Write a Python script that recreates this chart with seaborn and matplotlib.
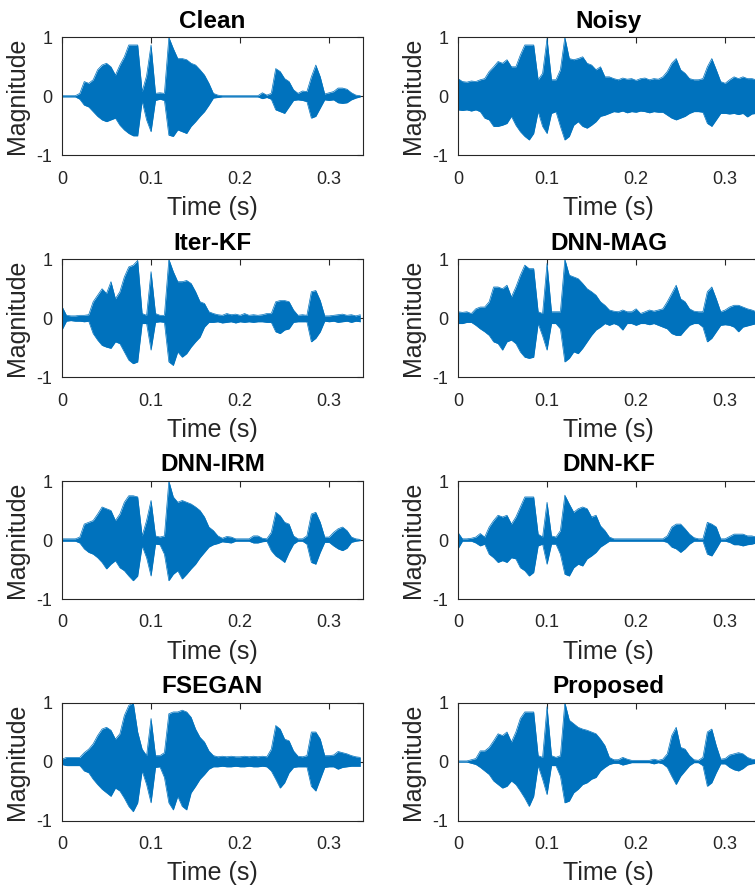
import matplotlib
matplotlib.use("Agg")
import matplotlib.pyplot as plt
import seaborn as sns
import numpy as np
import pandas as pd

# sample grid of the envelopes (s)
time_s = np.round(np.arange(68) * 0.005, 3)

# upper / lower envelope of each waveform
clean_upper = [0.01, 0.01, 0.01, 0.01, 0.05, 0.25, 0.22, 0.28, 0.45, 0.53,
               0.56, 0.50, 0.36, 0.53, 0.67, 0.87, 0.87, 0.87, 0.08, 0.35,
               0.87, 0.05, 0.06, 0.05, 1.00, 0.81, 0.64, 0.64, 0.62, 0.56,
               0.53, 0.45, 0.36, 0.22, 0.05, 0.02, 0.01, 0.01, 0.01, 0.01,
               0.01, 0.01, 0.01, 0.01, 0.01, 0.06, 0.02, 0.05, 0.47, 0.42,
               0.30, 0.25, 0.11, 0.05, 0.09, 0.08, 0.33, 0.53, 0.33, 0.04,
               0.06, 0.08, 0.14, 0.14, 0.12, 0.06, 0.02, 0.01]
clean_lower = [-0.01, -0.01, -0.01, -0.01, -0.05, -0.15, -0.18, -0.26, -0.34, -0.40,
               -0.43, -0.40, -0.37, -0.49, -0.57, -0.63, -0.67, -0.67, -0.08, -0.40,
               -0.60, -0.07, -0.05, -0.07, -0.66, -0.68, -0.57, -0.60, -0.63, -0.51,
               -0.43, -0.34, -0.26, -0.15, -0.03, -0.02, -0.01, -0.01, -0.01, -0.01,
               -0.01, -0.01, -0.01, -0.01, -0.01, -0.04, -0.02, -0.05, -0.23, -0.26,
               -0.29, -0.18, -0.07, -0.06, -0.07, -0.09, -0.37, -0.34, -0.20, -0.06,
               -0.07, -0.06, -0.11, -0.12, -0.11, -0.06, -0.03, -0.01]

noisy_upper = [0.30, 0.25, 0.24, 0.26, 0.25, 0.28, 0.30, 0.42, 0.50, 0.59,
               0.56, 0.62, 0.50, 0.50, 0.70, 0.87, 0.87, 0.87, 0.28, 0.39,
               0.98, 0.28, 0.28, 0.45, 1.00, 0.64, 0.62, 0.64, 0.67, 0.56,
               0.53, 0.45, 0.50, 0.33, 0.33, 0.30, 0.28, 0.31, 0.29, 0.30,
               0.27, 0.30, 0.31, 0.28, 0.30, 0.29, 0.33, 0.42, 0.56, 0.64,
               0.45, 0.39, 0.30, 0.28, 0.28, 0.30, 0.50, 0.64, 0.45, 0.25,
               0.22, 0.28, 0.33, 0.30, 0.33, 0.30, 0.30, 0.28]
noisy_lower = [-0.23, -0.24, -0.23, -0.25, -0.23, -0.26, -0.37, -0.40, -0.51, -0.51,
               -0.49, -0.46, -0.34, -0.49, -0.60, -0.68, -0.74, -0.63, -0.26, -0.51,
               -0.63, -0.29, -0.26, -0.51, -0.74, -0.68, -0.49, -0.43, -0.51, -0.54,
               -0.49, -0.43, -0.34, -0.32, -0.29, -0.26, -0.27, -0.25, -0.28, -0.26,
               -0.27, -0.25, -0.26, -0.28, -0.26, -0.27, -0.27, -0.32, -0.37, -0.40,
               -0.37, -0.34, -0.29, -0.26, -0.26, -0.27, -0.46, -0.51, -0.40, -0.29,
               -0.29, -0.30, -0.29, -0.31, -0.29, -0.35, -0.30, -0.29]

iterkf_upper = [0.20, 0.05, 0.04, 0.04, 0.05, 0.05, 0.06, 0.28, 0.39, 0.50,
                0.42, 0.62, 0.33, 0.45, 0.70, 0.87, 0.90, 0.98, 0.08, 0.05,
                0.79, 0.08, 0.05, 0.05, 1.00, 0.79, 0.62, 0.62, 0.64, 0.59,
                0.45, 0.28, 0.25, 0.11, 0.08, 0.06, 0.05, 0.08, 0.06, 0.07,
                0.05, 0.08, 0.05, 0.06, 0.05, 0.06, 0.08, 0.08, 0.28, 0.30,
                0.30, 0.28, 0.14, 0.05, 0.06, 0.05, 0.45, 0.47, 0.30, 0.04,
                0.04, 0.05, 0.06, 0.07, 0.05, 0.06, 0.04, 0.06]
iterkf_lower = [-0.20, -0.05, -0.04, -0.05, -0.05, -0.06, -0.05, -0.26, -0.37, -0.46,
                -0.49, -0.51, -0.40, -0.43, -0.57, -0.71, -0.77, -0.74, -0.09, -0.09,
                -0.54, -0.07, -0.06, -0.07, -0.74, -0.80, -0.57, -0.66, -0.60, -0.49,
                -0.40, -0.32, -0.15, -0.07, -0.07, -0.06, -0.08, -0.07, -0.06, -0.08,
                -0.06, -0.07, -0.06, -0.07, -0.06, -0.06, -0.07, -0.07, -0.23, -0.26,
                -0.20, -0.18, -0.07, -0.06, -0.06, -0.06, -0.40, -0.34, -0.23, -0.05,
                -0.06, -0.05, -0.07, -0.06, -0.05, -0.07, -0.05, -0.06]

dnnmag_upper = [0.11, 0.10, 0.11, 0.08, 0.16, 0.19, 0.19, 0.28, 0.53, 0.53,
                0.50, 0.56, 0.36, 0.53, 0.73, 0.90, 0.84, 0.84, 0.11, 0.08,
                0.93, 0.11, 0.11, 0.11, 1.00, 0.73, 0.70, 0.67, 0.59, 0.50,
                0.45, 0.39, 0.28, 0.22, 0.14, 0.12, 0.11, 0.14, 0.11, 0.11,
                0.16, 0.08, 0.11, 0.14, 0.12, 0.14, 0.16, 0.28, 0.42, 0.56,
                0.33, 0.28, 0.16, 0.12, 0.11, 0.11, 0.45, 0.53, 0.33, 0.11,
                0.14, 0.19, 0.22, 0.22, 0.19, 0.16, 0.14, 0.11]
dnnmag_lower = [-0.09, -0.09, -0.07, -0.07, -0.12, -0.18, -0.23, -0.29, -0.40, -0.43,
                -0.54, -0.40, -0.37, -0.43, -0.57, -0.66, -0.68, -0.66, -0.09, -0.30,
                -0.54, -0.09, -0.09, -0.18, -0.74, -0.68, -0.57, -0.60, -0.51, -0.40,
                -0.29, -0.20, -0.15, -0.09, -0.12, -0.09, -0.12, -0.20, -0.09, -0.09,
                -0.12, -0.09, -0.09, -0.11, -0.09, -0.12, -0.15, -0.18, -0.26, -0.29,
                -0.29, -0.20, -0.12, -0.09, -0.09, -0.15, -0.40, -0.34, -0.23, -0.12,
                -0.11, -0.12, -0.15, -0.23, -0.15, -0.13, -0.11, -0.09]

dnnirm_upper = [0.02, 0.02, 0.02, 0.02, 0.05, 0.27, 0.30, 0.33, 0.44, 0.56,
                0.53, 0.50, 0.33, 0.44, 0.64, 0.75, 0.75, 0.73, 0.07, 0.33,
                0.67, 0.07, 0.05, 0.07, 1.00, 0.73, 0.64, 0.67, 0.64, 0.61,
                0.56, 0.50, 0.39, 0.22, 0.16, 0.07, 0.03, 0.06, 0.05, 0.02,
                0.02, 0.02, 0.02, 0.07, 0.07, 0.03, 0.02, 0.13, 0.47, 0.41,
                0.30, 0.27, 0.07, 0.02, 0.02, 0.07, 0.44, 0.47, 0.30, 0.05,
                0.05, 0.13, 0.19, 0.22, 0.16, 0.05, 0.02, 0.01]
dnnirm_lower = [-0.02, -0.02, -0.02, -0.02, -0.05, -0.15, -0.21, -0.24, -0.30, -0.38,
                -0.49, -0.41, -0.35, -0.47, -0.52, -0.61, -0.69, -0.61, -0.10, -0.30,
                -0.61, -0.07, -0.08, -0.24, -0.69, -0.58, -0.52, -0.66, -0.58, -0.49,
                -0.41, -0.30, -0.21, -0.12, -0.08, -0.06, -0.03, -0.04, -0.05, -0.02,
                -0.02, -0.02, -0.02, -0.05, -0.05, -0.03, -0.02, -0.18, -0.27, -0.32,
                -0.38, -0.21, -0.07, -0.02, -0.02, -0.07, -0.38, -0.41, -0.21, -0.04,
                -0.04, -0.10, -0.15, -0.18, -0.14, -0.04, -0.02, -0.01]

dnnkf_upper = [0.13, 0.02, 0.02, 0.03, 0.05, 0.11, 0.05, 0.22, 0.33, 0.42,
               0.39, 0.42, 0.27, 0.39, 0.56, 0.73, 0.73, 0.73, 0.10, 0.05,
               0.64, 0.07, 0.05, 0.16, 0.76, 0.61, 0.47, 0.53, 0.56, 0.53,
               0.39, 0.42, 0.24, 0.16, 0.05, 0.02, 0.02, 0.02, 0.02, 0.02,
               0.02, 0.02, 0.02, 0.02, 0.02, 0.02, 0.02, 0.07, 0.22, 0.27,
               0.27, 0.19, 0.10, 0.04, 0.02, 0.02, 0.30, 0.27, 0.22, 0.02,
               0.02, 0.06, 0.10, 0.10, 0.10, 0.07, 0.07, 0.05]
dnnkf_lower = [-0.15, -0.02, -0.02, -0.02, -0.05, -0.10, -0.07, -0.24, -0.30, -0.38,
               -0.35, -0.38, -0.30, -0.32, -0.47, -0.52, -0.61, -0.55, -0.10, -0.07,
               -0.41, -0.07, -0.07, -0.24, -0.58, -0.61, -0.47, -0.41, -0.44, -0.32,
               -0.27, -0.21, -0.12, -0.07, -0.02, -0.02, -0.02, -0.02, -0.02, -0.02,
               -0.02, -0.02, -0.02, -0.02, -0.02, -0.02, -0.02, -0.04, -0.12, -0.15,
               -0.21, -0.15, -0.07, -0.02, -0.02, -0.02, -0.24, -0.27, -0.15, -0.02,
               -0.02, -0.04, -0.08, -0.08, -0.10, -0.08, -0.07, -0.05]

fsegan_upper = [0.04, 0.07, 0.07, 0.07, 0.07, 0.15, 0.21, 0.30, 0.44, 0.55,
                0.58, 0.53, 0.38, 0.47, 0.78, 0.95, 1.00, 0.50, 0.21, 0.10,
                0.73, 0.10, 0.10, 0.15, 0.81, 0.84, 0.84, 0.87, 0.84, 0.75,
                0.55, 0.41, 0.33, 0.18, 0.10, 0.08, 0.09, 0.08, 0.09, 0.08,
                0.08, 0.09, 0.08, 0.09, 0.08, 0.09, 0.08, 0.21, 0.61, 0.55,
                0.38, 0.35, 0.18, 0.09, 0.08, 0.10, 0.50, 0.50, 0.38, 0.10,
                0.10, 0.11, 0.17, 0.15, 0.13, 0.10, 0.08, 0.07]
fsegan_lower = [-0.05, -0.07, -0.07, -0.07, -0.07, -0.16, -0.19, -0.30, -0.39, -0.47,
                -0.53, -0.59, -0.45, -0.50, -0.62, -0.76, -0.85, -0.70, -0.16, -0.39,
                -0.70, -0.10, -0.09, -0.27, -0.70, -0.82, -0.59, -0.76, -0.82, -0.53,
                -0.42, -0.30, -0.22, -0.13, -0.09, -0.09, -0.08, -0.09, -0.09, -0.08,
                -0.09, -0.09, -0.08, -0.09, -0.09, -0.08, -0.09, -0.16, -0.30, -0.45,
                -0.36, -0.19, -0.10, -0.09, -0.09, -0.09, -0.42, -0.50, -0.30, -0.10,
                -0.09, -0.09, -0.13, -0.10, -0.09, -0.08, -0.08, -0.08]

proposed_upper = [0.01, 0.01, 0.01, 0.03, 0.05, 0.18, 0.18, 0.24, 0.35, 0.47,
                  0.44, 0.50, 0.33, 0.50, 0.73, 0.84, 0.84, 0.84, 0.10, 0.07,
                  0.93, 0.10, 0.07, 0.10, 1.00, 0.70, 0.64, 0.58, 0.55, 0.53,
                  0.50, 0.47, 0.38, 0.27, 0.07, 0.03, 0.03, 0.07, 0.04, 0.02,
                  0.02, 0.02, 0.02, 0.02, 0.04, 0.02, 0.04, 0.13, 0.44, 0.58,
                  0.24, 0.21, 0.10, 0.03, 0.02, 0.07, 0.50, 0.55, 0.27, 0.04,
                  0.05, 0.11, 0.13, 0.15, 0.13, 0.07, 0.04, 0.03]
proposed_lower = [-0.01, -0.01, -0.01, -0.03, -0.05, -0.10, -0.16, -0.22, -0.33, -0.39,
                  -0.45, -0.42, -0.33, -0.39, -0.50, -0.62, -0.76, -0.59, -0.07, -0.30,
                  -0.56, -0.07, -0.07, -0.25, -0.70, -0.67, -0.53, -0.47, -0.39, -0.36,
                  -0.30, -0.27, -0.16, -0.10, -0.05, -0.03, -0.03, -0.06, -0.04, -0.02,
                  -0.02, -0.02, -0.02, -0.02, -0.04, -0.02, -0.04, -0.10, -0.25, -0.39,
                  -0.25, -0.16, -0.07, -0.02, -0.02, -0.07, -0.42, -0.36, -0.19, -0.04,
                  -0.04, -0.10, -0.14, -0.16, -0.12, -0.06, -0.04, -0.03]

titles = ["Clean", "Noisy", "Iter-KF", "DNN-MAG",
          "DNN-IRM", "DNN-KF", "FSEGAN", "Proposed"]
uppers = [clean_upper, noisy_upper, iterkf_upper, dnnmag_upper,
          dnnirm_upper, dnnkf_upper, fsegan_upper, proposed_upper]
lowers = [clean_lower, noisy_lower, iterkf_lower, dnnmag_lower,
          dnnirm_lower, dnnkf_lower, fsegan_lower, proposed_lower]

sns.set_theme(style="white")
plt.rcParams['font.family'] = ['Liberation Sans', 'DejaVu Sans']

wave_color = '#0072BD'
axis_color = '#262626'

fig = plt.figure(figsize=(7.55, 8.86), dpi=100)
lefts = [0.0821, 0.6066]
bottoms = [0.8247, 0.5742, 0.3239, 0.0739]
w, h = 0.3987, 0.1332

for i, (title, up, lo) in enumerate(zip(titles, uppers, lowers)):
    ax = fig.add_axes([lefts[i % 2], bottoms[i // 2], w, h])
    df = pd.DataFrame({'time': time_s, 'upper': up, 'lower': lo})

    ax.fill_between(df['time'], df['lower'], df['upper'], color=wave_color, linewidth=0)
    sns.lineplot(data=df, x='time', y='upper', ax=ax, color=wave_color, linewidth=0.5)
    sns.lineplot(data=df, x='time', y='lower', ax=ax, color=wave_color, linewidth=0.5)

    ax.set_xlim(0, 0.338)
    ax.set_ylim(-1, 1)
    ax.set_xticks([0, 0.1, 0.2, 0.3])
    ax.set_xticklabels(['0', '0.1', '0.2', '0.3'])
    ax.set_yticks([-1, 0, 1])
    ax.set_yticklabels(['-1', '0', '1'])
    ax.tick_params(direction='in', top=True, right=True, length=4, width=0.8,
                   colors=axis_color, labelsize=13)
    ax.tick_params(axis='x', pad=11)
    ax.tick_params(axis='y', pad=7)
    for s in ax.spines.values():
        s.set_visible(True)
        s.set_color(axis_color)
        s.set_linewidth(0.8)

    ax.set_xlabel('Time (s)', fontsize=18, color=axis_color, labelpad=6)
    ax.set_ylabel('Magnitude', fontsize=18, color=axis_color, labelpad=5)
    ax.set_title(title, fontsize=17.5, fontweight='bold', color='black', pad=7)

fig.savefig('out.png', dpi=100)
